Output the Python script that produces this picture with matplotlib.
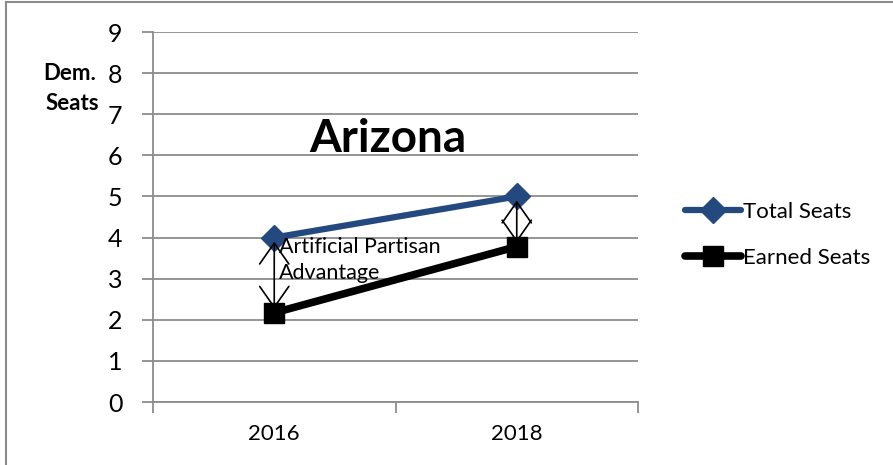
import matplotlib
matplotlib.use("Agg")
import matplotlib.pyplot as plt
from matplotlib.lines import Line2D

plt.rcParams['font.family'] = ['Lato', 'DejaVu Sans']

years = ["2016", "2018"]
total_seats = [4, 5]
earned_seats = [2.17, 3.78]
y_ticks = [0, 1, 2, 3, 4, 5, 6, 7, 8, 9]

fig = plt.figure(figsize=(8.93, 4.65), dpi=100)
ax = fig.add_axes([153/893, 1-402/465, (638-153)/893, (402-32)/465])

x = list(range(len(years)))
ax.plot(x, total_seats, color='#24497F', lw=4.5, marker='D', markersize=13,
        label='Total Seats', zorder=3, solid_capstyle='round')
ax.plot(x, earned_seats, color='black', lw=5.5, marker='s', markersize=15,
        label='Earned Seats', zorder=3, solid_capstyle='round')

for i in x:
    ax.annotate('', xy=(i, total_seats[i] - 0.1), xytext=(i, earned_seats[i] + 0.1),
                arrowprops=dict(arrowstyle='<->,head_length=0.5,head_width=0.35',
                                color='black', lw=1.2,
                                mutation_scale=30, shrinkA=0, shrinkB=0),
                zorder=4)

ax.text(0.02, 3.45, 'Artificial Partisan\nAdvantage', fontsize=15.5, va='center',
        ha='left', linespacing=1.35, zorder=5)
ax.text(0.47, 6.4, 'Arizona', fontsize=33, fontweight='bold', ha='center', va='center')

ax.set_xlim(-0.5, 1.5)
ax.set_ylim(0, 9)
ax.set_yticks(y_ticks)
ax.set_yticklabels([str(v) for v in y_ticks], fontsize=18)
ax.set_xticks(x)
ax.set_xticklabels(years, fontsize=16)
ax.set_xticks([-0.5, 0.5, 1.5], minor=True)
ax.tick_params(axis='x', which='major', length=0, pad=16)
ax.tick_params(axis='x', which='minor', length=8, color='#8C8C8C', width=1.3, direction='out')
ax.tick_params(axis='y', length=8, color='#8C8C8C', width=1.3, pad=14)
ax.grid(axis='y', color='#8C8C8C', lw=1.3)
ax.set_axisbelow(True)
for s in ['top', 'right']:
    ax.spines[s].set_visible(False)
for s in ['left', 'bottom']:
    ax.spines[s].set_color('#8C8C8C')
    ax.spines[s].set_linewidth(1.3)

fig.text(70/893, 1-73/465, 'Dem.', fontsize=16, fontweight='bold', ha='center', va='center')
fig.text(72/893, 1-103/465, 'Seats', fontsize=16, fontweight='bold', ha='center', va='center')

leg = ax.legend(loc='center left', bbox_to_anchor=(674/893, 1-235/465),
                bbox_transform=fig.transFigure, frameon=False, fontsize=16,
                handlelength=2.5, handletextpad=0.1, labelspacing=1.15, borderpad=0)

fig.add_artist(Line2D([5.5/893, 5.5/893], [0, 1-2/465], color='#8C8C8C', lw=1.5,
                      transform=fig.transFigure))
fig.add_artist(Line2D([5.5/893, 1], [1-2/465, 1-2/465], color='#8C8C8C', lw=1.5,
                      transform=fig.transFigure))

fig.savefig('out.png', dpi=100)
